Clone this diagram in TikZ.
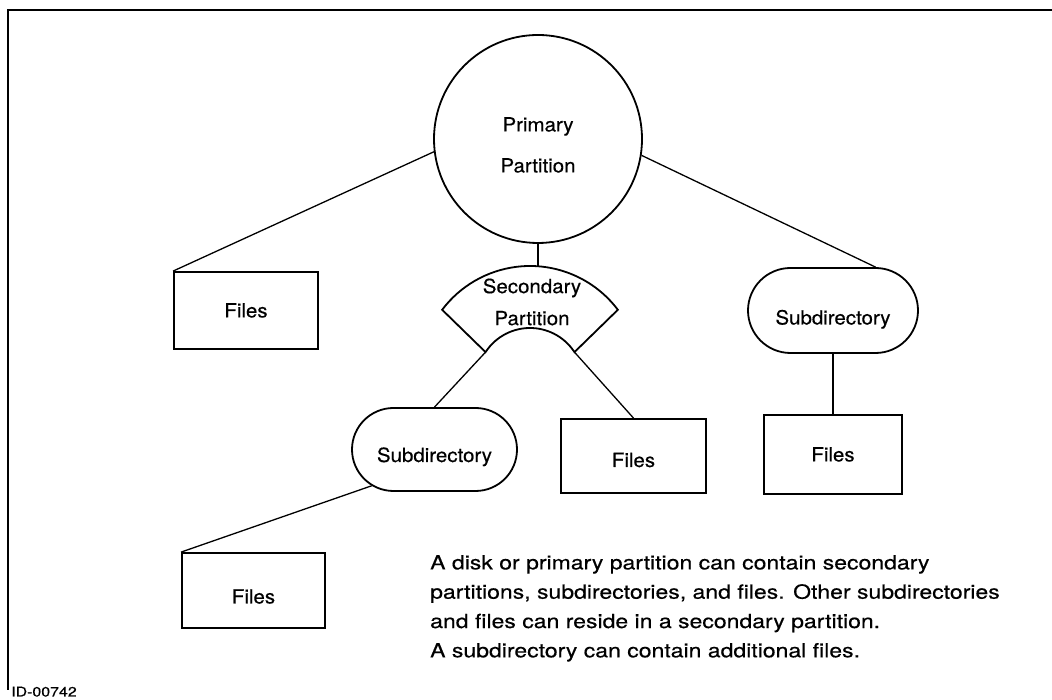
\documentclass[tikz,border=0pt]{standalone}
\usepackage{fontspec}
\setmainfont{TeX Gyre Heros}[FakeStretch=1.18, FakeBold=0.4]
\newfontfamily\lblfont{TeX Gyre Heros}[FakeStretch=1.05, FakeBold=0.4]
\usetikzlibrary{shapes.misc,calc}
\begin{document}
\begin{tikzpicture}[x=1pt,y=1pt,
  shapeline/.style={draw, line width=1.8pt},
  filebox/.style={shapeline, rectangle, inner sep=0pt},
  subdir/.style={shapeline, rounded rectangle, inner sep=0pt},
  textdown/.style={text depth=0pt, text height=#1},
  conn/.style={line width=1.3pt},
  txt/.style={inner sep=0pt, font=\lblfont\fontsize{19.5}{23}\selectfont},
  every node/.style={font=\lblfont\fontsize{19.5}{23}\selectfont}]
\useasboundingbox (0,0) rectangle (1052,700);
% frame
\draw[line width=1.6pt] (1052,690) -- (8,690) -- (8,10);
% primary partition
\node[shapeline, circle, minimum size=208pt, inner sep=0pt] (prim) at (538,561) {};
\node[txt, align=center, font=\lblfont\fontsize{19.5}{41}\selectfont] (primtxt) at (538,555) {Primary\\Partition};
% secondary partition (annular sector)
\coordinate (cout) at (530,324);
\coordinate (cin) at (530,319);
\draw[line width=1.8pt] ($(cout)+(37:110)$) arc[start angle=37, end angle=143, radius=110]
  -- ($(cin)+(147:53)$) coordinate (secBL) arc[start angle=147, end angle=33, radius=53] coordinate (secBR) -- cycle;
\coordinate (secTop) at (538,433.7);
\node[txt, align=center, font=\lblfont\fontsize{19.5}{32}\selectfont] (sectxt) at (532,398) {Secondary\\Partition};
% boxes
\node[filebox, minimum width=144pt, minimum height=77pt] (lf) at (246,389.5) {Files};
\node[subdir, textdown=28pt, minimum width=170pt, minimum height=85pt] (rsub) at (833,389.5) {Subdirectory};
\node[filebox, minimum width=138pt, minimum height=79pt] (rf) at (833,245.5) {Files};
\node[subdir, textdown=25pt, minimum width=165pt, minimum height=83pt] (msub) at (434.5,250.5) {Subdirectory};
\node[filebox, textdown=22pt, minimum width=145pt, minimum height=74pt] (mf) at (633.5,244) {Files};
\node[filebox, textdown=26pt, minimum width=143pt, minimum height=75pt] (blf) at (253.5,109.5) {Files};
% connectors
\draw[conn] (prim.187) -- (lf.north west);
\draw[conn] (prim.-9) -- (rsub.north east);
\draw[conn] (prim.south) -- (secTop);
\draw[conn] (secBL) -- (msub.north);
\draw[conn] (secBR) -- (mf.north);
\draw[conn] (msub.210) -- (blf.north west);
\draw[conn] (rsub.south) -- (rf.north);
% caption
\node[inner sep=0pt, anchor=north west, align=left, font=\rmfamily\fontsize{19.5}{29.3}\selectfont] (cap) at (430,145)
 {A disk or primary partition can contain secondary\\
  partitions, subdirectories, and files. Other subdirectories\\
  and files can reside in a secondary partition.\\
  A subdirectory can contain additional files.};
\node[inner sep=0pt, anchor=base west, font=\rmfamily\fontsize{13.5}{15}\selectfont] (id) at (11,3.5) {ID-00742};
\end{tikzpicture}
\end{document}
